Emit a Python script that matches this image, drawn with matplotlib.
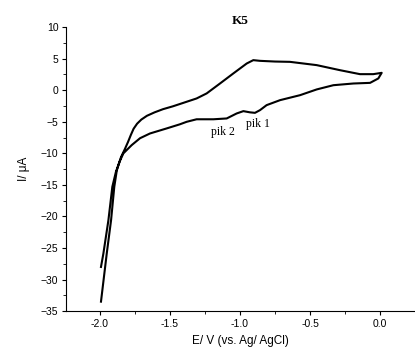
import matplotlib.pyplot as plt
from matplotlib.ticker import MultipleLocator

# potential (V) and current (uA)
# forward branch: from -2.0 V up through the anodic peak to 0 V
e_fwd = [-1.993, -1.952, -1.921, -1.898, -1.880, -1.850, -1.822, -1.800,
         -1.780, -1.760, -1.735, -1.705, -1.665, -1.610, -1.550, -1.480,
         -1.405, -1.310, -1.238, -1.143, -1.048, -0.952, -0.905, -0.857,
         -0.750, -0.643, -0.452, -0.286, -0.143, -0.048, 0.012]
i_fwd = [-33.5, -25.9, -20.6, -15.3, -12.7, -10.6, -9.3, -8.2,
         -7.1, -6.1, -5.3, -4.65, -4.05, -3.5, -3.0, -2.55,
         -2.0, -1.3, -0.5, 1.07, 2.66, 4.24, 4.77, 4.66,
         4.55, 4.5, 3.98, 3.18, 2.55, 2.55, 2.76]
# reverse branch: from 0 V back down through pik 1 / pik 2 to -2.0 V
e_rev = [-0.012, -0.071, -0.190, -0.333, -0.452, -0.571, -0.714, -0.810,
         -0.857, -0.893, -0.929, -0.976, -1.024, -1.095, -1.190, -1.310,
         -1.381, -1.430, -1.524, -1.643, -1.714, -1.774, -1.833, -1.860,
         -1.886, -1.912, -1.940, -1.976, -1.993]
i_rev = [1.87, 1.17, 1.07, 0.8, 0.13, -0.78, -1.57, -2.36,
         -3.15, -3.58, -3.5, -3.31, -3.68, -4.47, -4.6, -4.6,
         -5.0, -5.4, -6.05, -6.85, -7.6, -8.7, -10.0, -11.3,
         -12.9, -15.3, -20.6, -25.9, -28.0]

peak_labels = ['pik 1', 'pik 2']
peak_e = [-0.875, -1.125]
peak_i = [-5.4, -6.6]

fig = plt.figure(figsize=(4.15, 3.48), dpi=100)
ax = fig.add_axes([0.159, 0.106, 0.841, 0.816])

ax.plot(e_fwd + e_rev, i_fwd + i_rev, color='black', linewidth=1.5)

for lab, x, y in zip(peak_labels, peak_e, peak_i):
    ax.text(x, y, lab, ha='center', va='center', fontsize=8.5, family='Liberation Serif')

ax.set_title('K5', fontsize=9.5, fontweight='bold', family='Liberation Serif', pad=1)

ax.set_xlim(-2.243, 0.25)
ax.set_ylim(-35, 10)
ax.xaxis.set_major_locator(MultipleLocator(0.5))
ax.xaxis.set_minor_locator(MultipleLocator(0.25))
ax.yaxis.set_major_locator(MultipleLocator(5))
ax.yaxis.set_minor_locator(MultipleLocator(2.5))
ax.xaxis.set_major_formatter(plt.FuncFormatter(lambda v, p: f'{v:.1f}'))

ax.spines['top'].set_visible(False)
ax.spines['right'].set_visible(False)
ax.tick_params(which='major', direction='out', length=3, width=0.8, labelsize=7.5, pad=2.5)
ax.tick_params(which='minor', direction='out', length=2, width=0.6)
for lab in ax.get_xticklabels() + ax.get_yticklabels():
    lab.set_family('Liberation Sans')

ax.set_xlabel('E/ V (vs. Ag/ AgCl)', fontsize=8.5, family='Liberation Sans', labelpad=4.5)
ax.set_ylabel('I/ \u03bcA', fontsize=8.5, family='Liberation Sans', labelpad=8)

plt.savefig('out.png', dpi=100)
